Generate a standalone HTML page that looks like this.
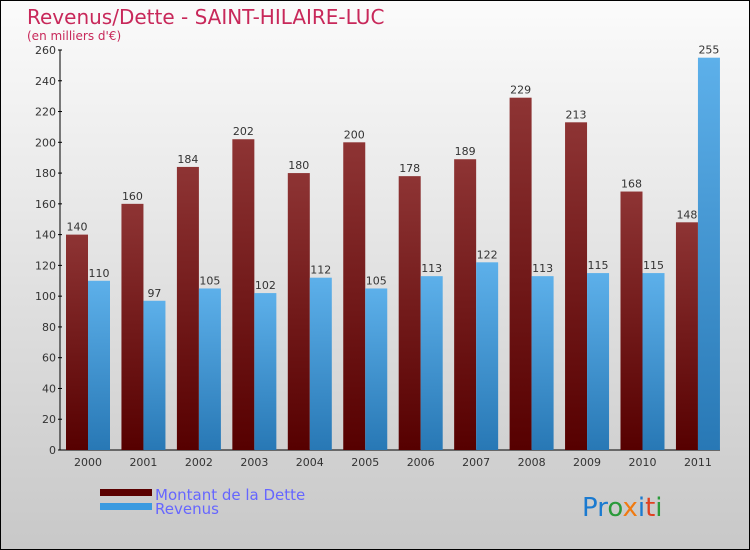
<!DOCTYPE html>
<html><head><meta charset="utf-8"><style>
body{margin:0}
#w{width:750px;height:550px;position:relative;box-sizing:border-box;border:1px solid #000;background:linear-gradient(#fbfbfb,#c8c8c8);font-family:"DejaVu Sans","Liberation Sans",sans-serif;overflow:hidden}
</style></head><body>
<div id="w">
<svg id="s" width="750" height="550" style="position:absolute;left:-1px;top:-1px">
<defs>
<linearGradient id="gd" x1="0" y1="0" x2="0" y2="1"><stop offset="0" stop-color="#8e3434"/><stop offset="1" stop-color="#560000"/></linearGradient>
<linearGradient id="gr" x1="0" y1="0" x2="0" y2="1"><stop offset="0" stop-color="#5db0ea"/><stop offset="1" stop-color="#2878b5"/></linearGradient>
</defs>
<text x="27" y="24" font-size="20" fill="#c8285a">Revenus/Dette - SAINT-HILAIRE-LUC</text>
<text x="27" y="40" font-size="12" fill="#c8285a">(en milliers d'€)</text>
<g id="ax"></g><g id="bars"></g>
<rect x="100" y="489" width="52" height="7" fill="#5a0000"/>
<rect x="100" y="503" width="52" height="7" fill="#3a9ae0"/>
<text x="155" y="500" font-size="15" fill="#6666ff">Montant de la Dette</text>
<text x="155" y="514" font-size="15" fill="#6666ff">Revenus</text>
<text x="582" y="516" font-size="26" font-family="DejaVu Sans"><tspan fill="#1a7ad0">Pr</tspan><tspan fill="#2a9a3a">o</tspan><tspan fill="#f07a10">x</tspan><tspan fill="#1a7ad0">i</tspan><tspan fill="#e04020">t</tspan><tspan fill="#2a9a3a">i</tspan></text>
</svg></div>
<script>
const years=["2000","2001","2002","2003","2004","2005","2006","2007","2008","2009","2010","2011"];
const dette=[140,160,184,202,180,200,178,189,229,213,168,148];
const revenus=[110,97,105,102,112,105,113,122,113,115,115,255];
const yTicks=[0,20,40,60,80,100,120,140,160,180,200,220,240,260];
const NS="http://www.w3.org/2000/svg";
const y=v=>450-v*400/260, cx=i=>88+55.45*i;
const ax=document.getElementById('ax'),bars=document.getElementById('bars');
function mk(tag,a,p,txt){const e=document.createElementNS(NS,tag);for(const k in a)e.setAttribute(k,a[k]);if(txt!=null)e.textContent=txt;p.appendChild(e);return e;}
yTicks.forEach(t=>{
 const tx=mk('text',{x:56,y:y(t)+4,'font-size':11,fill:'#333','text-anchor':'end'},ax,t);
 
 
 mk('line',{x1:58,x2:62,y1:y(t),y2:y(t),stroke:'#000'},ax);
});
const yl=mk('line',{x1:60,x2:60,y1:y(260),y2:450,stroke:'#000'},ax);


const xl=mk('line',{x1:60,x2:720,y1:450,y2:450,stroke:'#000'},ax);


years.forEach((yr,i)=>{
 const c=cx(i);
 const l=mk('text',{x:c,y:466,'font-size':11,fill:'#333','text-anchor':'middle'},ax,yr);
 
 
 const b1=mk('rect',{x:c-22,y:y(dette[i]),width:22,height:450-y(dette[i]),fill:'url(#gd)'},bars);
 
 
 const b2=mk('rect',{x:c,y:y(revenus[i]),width:22,height:450-y(revenus[i]),fill:'url(#gr)'},bars);
 
 
 const v1=mk('text',{x:c-11,y:y(dette[i])-4,'font-size':11,fill:'#333','text-anchor':'middle'},bars,dette[i]);
 
 
 const v2=mk('text',{x:c+11,y:y(revenus[i])-4,'font-size':11,fill:'#333','text-anchor':'middle'},bars,revenus[i]);
 
 
});
</script>
</body></html>
